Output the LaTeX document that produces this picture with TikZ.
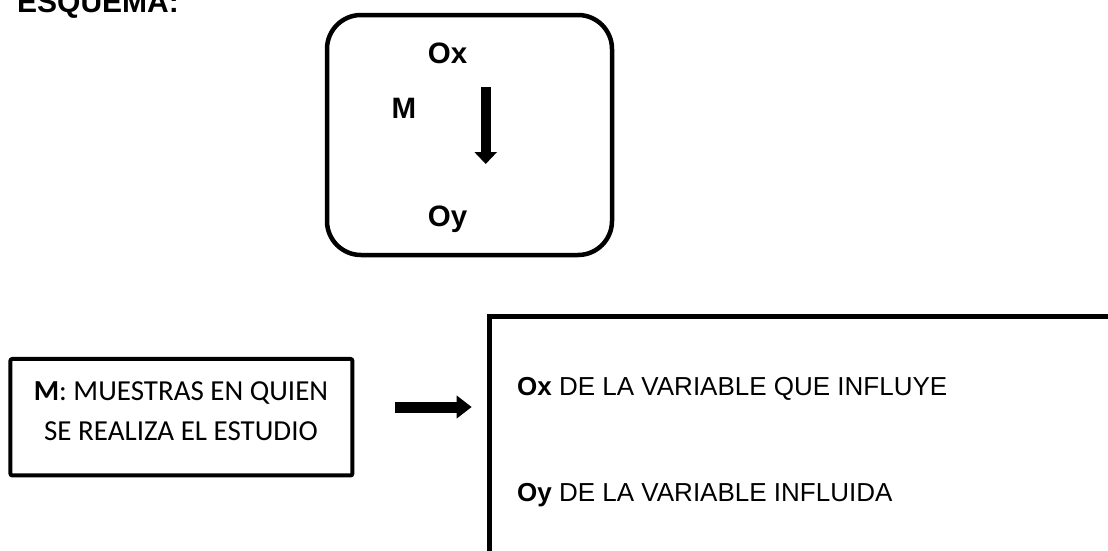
\documentclass[tikz,border=0pt]{standalone}
\usepackage{fontspec}
\setmainfont{Liberation Sans}
\newfontfamily\calibri{Carlito}
\usetikzlibrary{arrows.meta}

\begin{document}
\begin{tikzpicture}[x=1pt,y=-1pt,
	etiq/.style={inner sep=0pt,anchor=base,font=\fontsize{29.5}{33}\selectfont\bfseries},
	linea/.style={inner sep=0pt,anchor=base west,font=\fontsize{26}{30}\selectfont},
	muestra/.style={inner sep=0pt,anchor=base,font=\calibri\fontsize{29}{33}\selectfont}]
	\useasboundingbox (0,0) rectangle (1108,550);
	\clip (0,0) rectangle (1108,550);
	\node[inner sep=0pt,anchor=base west,font=\fontsize{30}{34}\selectfont\bfseries] (titulo) at (17,12) {ESQUEMA:};
	% caja del esquema
	\node[draw,line width=4.5pt,rounded corners=34pt,minimum width=285pt,minimum height=240pt] (caja) at (469.5,135) {};
	\node[etiq] (ox) at (447.5,63.5) {Ox};
	\node[etiq] (m) at (404,118) {M};
	\node[etiq] (oy) at (447.5,226.5) {Oy};
	\coordinate (vini) at (485.7,87);
	\coordinate (vfin) at (485.7,164);
	\draw[line width=10pt,-{Triangle[width=22pt,length=12pt]}] (vini)--(vfin);
	% leyenda
	\node[draw,line width=4pt,rounded corners=2pt,minimum width=342pt,minimum height=116.5pt] (caja2) at (181.4,417.2) {};
	\node[muestra] (m1) at (181,400) {\textbf{M}: MUESTRAS EN QUIEN};
	\node[muestra] (m2) at (181,440) {SE REALIZA EL ESTUDIO};
	\coordinate (hini) at (395,407);
	\coordinate (hfin) at (471.7,407);
	\draw[line width=11pt,-{Triangle[width=22pt,length=15pt]}] (hini)--(hfin);
	\draw[line width=4.5pt] (489.5,570) |- (1130,316.6);
	\node[linea] (vx) at (517,395) {\textbf{Ox} DE LA VARIABLE QUE INFLUYE};
	\node[linea] (vy) at (517,501.7) {\textbf{Oy} DE LA VARIABLE INFLUIDA};
\end{tikzpicture}
\end{document}
